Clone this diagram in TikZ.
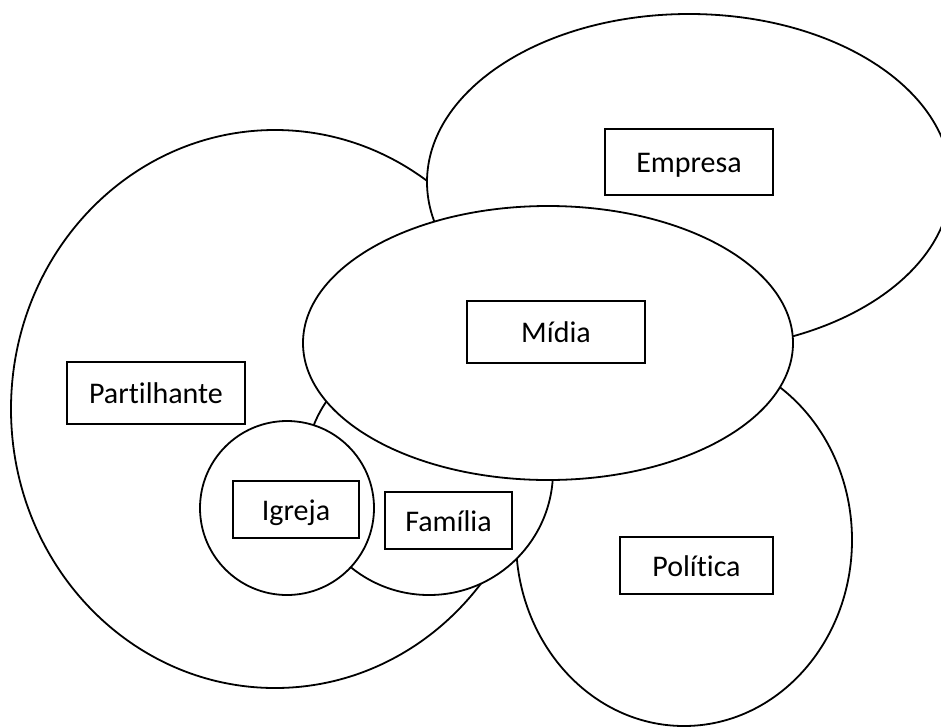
\documentclass[tikz,border=0pt]{standalone}
\usepackage{fontspec}
\setmainfont{Carlito}[Ligatures={NoCommon}]
\usetikzlibrary{shapes.geometric}
\begin{document}
\begin{tikzpicture}[x=1pt,y=-1pt,
  region/.style={draw=black,fill=white,line width=1.8pt,ellipse,inner sep=0pt,outer sep=0pt},
  tag/.style={draw=black,fill=white,line width=1.8pt,inner sep=0pt,
    font=\fontsize{30}{35}\selectfont,text height=27pt,text depth=6pt}]
  \useasboundingbox (0,0) rectangle (941,726);
  \fill[white] (0,0) rectangle (941,726);
  \clip (0,0) rectangle (941,726);
  % overlapping regions, back to front
  \node[region,minimum width=528pt,minimum height=558pt] (partilhante) at (275,409) {};
  \node[region,minimum width=524pt,minimum height=336pt] (empresa) at (689,182) {};
  \node[region,minimum width=336pt,minimum height=372pt] (politica) at (684,540) {};
  \node[region,circle,minimum size=248pt] (familia) at (429,471) {};
  \node[region,circle,minimum size=174pt] (igreja) at (287,508) {};
  \node[region,minimum width=490pt,minimum height=274pt] (midia) at (548,343) {};
  % labels
  \node[tag,minimum width=168pt,minimum height=66pt] (tEmpresa) at (689,162) {Empresa};
  \node[tag,minimum width=178pt,minimum height=62pt] (tMidia) at (556,332) {Mídia};
  \node[tag,minimum width=178pt,minimum height=62pt] (tPartilhante) at (156,393) {Partilhante};
  \node[tag,minimum width=126pt,minimum height=57pt] (tIgreja) at (296,509.5) {Igreja};
  \node[tag,minimum width=127pt,minimum height=57pt] (tFamilia) at (448.5,520.5) {Família};
  \node[tag,minimum width=153pt,minimum height=57pt] (tPolitica) at (696.5,565.5) {Política};
\end{tikzpicture}
\end{document}
